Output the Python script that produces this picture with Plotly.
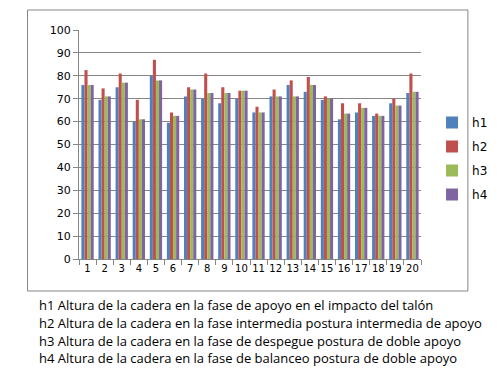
import plotly.graph_objects as go

categories = [str(i) for i in range(1, 21)]
h1 = [76, 69.5, 75, 60, 80, 59.5, 71, 70, 68, 70, 64, 71, 76, 73, 69.5, 61, 64, 62.5, 68, 72.5]
h2 = [82.5, 74.5, 81, 69.5, 87, 64, 75, 81, 75, 73.5, 66.5, 74, 78, 79.5, 71, 68, 68, 63.5, 70, 81]
h3 = [76, 71, 77, 61, 78, 62.5, 74, 72.5, 72.5, 73.5, 64, 71, 71, 76, 70, 63.5, 66, 62.5, 67, 73]
h4 = [76, 71, 77, 61, 78, 62.5, 74, 72.5, 72.5, 73.5, 64, 71, 71, 76, 70, 63.5, 66, 62.5, 67, 73]
series_names = ["h1", "h2", "h3", "h4"]
colors = ["#4F81BD", "#C0504D", "#9BBB59", "#8064A2"]
notes = [
    "h1 Altura de la cadera en la fase de apoyo en el impacto del talón",
    "h2 Altura de la cadera en la fase intermedia postura intermedia de apoyo",
    "h3 Altura de la cadera en la fase de despegue postura de doble apoyo",
    "h4 Altura de la cadera en la fase de balanceo postura de doble apoyo",
]

fig = go.Figure()
for name, vals, col in zip(series_names, [h1, h2, h3, h4], colors):
    fig.add_trace(go.Bar(x=categories, y=vals, name=name, marker_color=col,
                         marker_line_width=0, legendgroup=name))

W, H = 497, 370
L, R, T, B = 71, 443, 22, 251
pw, ph = R - L, B - T

def px(x):
    return (x - L) / pw

def py(y):
    return (B - y) / ph

fig.update_layout(
    width=W, height=H,
    margin=dict(l=L, r=W - R, t=T, b=H - B, pad=0),
    paper_bgcolor="white", plot_bgcolor="white",
    barmode="group", bargap=0.28, bargroupgap=0,
    font=dict(family="DejaVu Sans", size=11, color="black"),
    legend=dict(x=px(455), y=py(100), xanchor="left", yanchor="top",
                font=dict(size=12), tracegroupgap=5, traceorder="grouped",
                bgcolor="rgba(0,0,0,0)"),
    showlegend=True,
)
fig.update_xaxes(type="category", showline=True, linecolor="#868686", linewidth=1,
                 ticks="outside", ticklen=5, tickcolor="#868686",
                 tickson="boundaries", showgrid=False, tickangle=0,
                 tickfont=dict(size=10))
fig.update_yaxes(range=[0, 100], dtick=10, showline=True, linecolor="#868686",
                 linewidth=1, ticks="outside", ticklen=5, tickcolor="#868686",
                 showgrid=True, gridcolor="#868686", gridwidth=1, zeroline=False,
                 tickfont=dict(size=11))

fig.add_shape(type="rect", xref="paper", yref="paper",
              x0=px(15), x1=px(494), y0=py(283), y1=py(2),
              line=dict(color="#868686", width=1), fillcolor="rgba(0,0,0,0)",
              layer="below")

for i, (txt, yy) in enumerate(zip(notes, [297, 315, 333, 350])):
    fig.add_annotation(text=txt, xref="paper", yref="paper", x=px(25), y=py(yy),
                       xanchor="left", yanchor="middle", showarrow=False,
                       font=dict(family="Open Sans", size=13, color="black"))

fig.write_html("out.html")
